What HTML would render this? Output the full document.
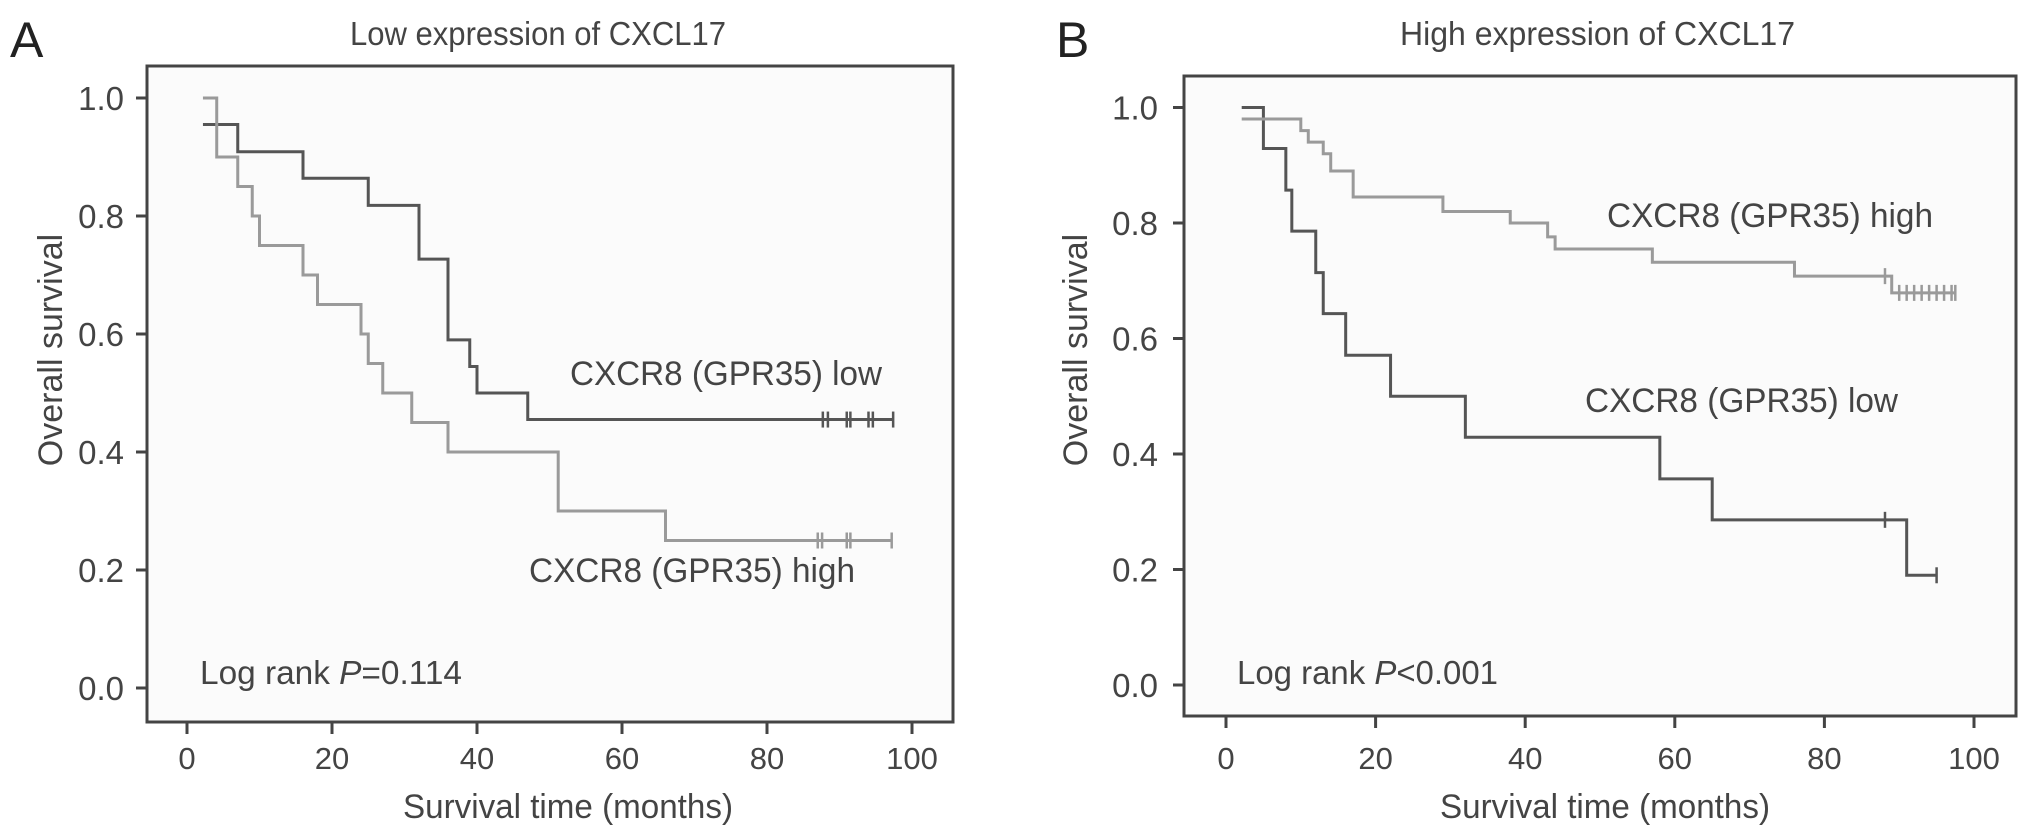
<!DOCTYPE html>
<html><head><meta charset="utf-8"><style>
html,body{margin:0;padding:0;background:#fff;}
svg{display:block;font-family:"Liberation Sans",sans-serif;}
</style></head><body>
<svg id="chart" width="2032" height="840" viewBox="0 0 2032 840"></svg>
<script>
// Panel A data (Low expression of CXCL17)
const aLowTimes = [2.2, 7, 16, 25, 32, 36, 39, 40, 47, 97.4];
const aLowSurv = [0.955, 0.909, 0.864, 0.818, 0.727, 0.59, 0.545, 0.5, 0.455, 0.455];
const aLowCensor = [87.7, 88.4, 91, 91.5, 94, 94.6, 97.4];
const aHighTimes = [2.2, 4.1, 7, 9, 10, 16, 18, 24, 25, 27, 31, 36, 51.2, 66, 97.2];
const aHighSurv = [1.0, 0.9, 0.85, 0.8, 0.75, 0.7, 0.65, 0.6, 0.55, 0.5, 0.45, 0.4, 0.3, 0.25, 0.25];
const aHighCensor = [87, 87.6, 91, 91.5, 97.2];
// Panel B data (High expression of CXCL17)
const bLowTimes = [2.1, 5, 8, 8.8, 12, 13, 16, 22, 32, 58, 65, 91, 95];
const bLowSurv = [1.0, 0.929, 0.857, 0.786, 0.714, 0.643, 0.571, 0.5, 0.429, 0.357, 0.286, 0.19, 0.19];
const bLowCensor = [88.1, 95];
const bHighTimes = [2.1, 10, 11, 13, 14, 17, 29, 38, 43, 44, 57, 76, 89, 97.5];
const bHighSurv = [0.98, 0.96, 0.94, 0.92, 0.89, 0.845, 0.82, 0.8, 0.776, 0.755, 0.732, 0.708, 0.679, 0.679];
const bHighCensor = [88.1, 90, 91, 92, 93, 94, 95, 96, 97, 97.5];
const xTicks = [0, 20, 40, 60, 80, 100];
const yTicks = [0, 0.2, 0.4, 0.6, 0.8, 1.0];

const NS = "http://www.w3.org/2000/svg";
const svg = document.getElementById("chart");
function mk(tag, attrs, parent){ const e=document.createElementNS(NS,tag); for(const k in attrs) e.setAttribute(k,attrs[k]); (parent||svg).appendChild(e); return e; }
function txt(s, attrs, parent){ const e=mk("text",attrs,parent); e.textContent=s; return e; }

function panel(cfg){
  const g = mk("g",{});
  
  
  const X = v => cfg.x0 + (cfg.x100 - cfg.x0) * v / 100;
  const Y = v => cfg.y0 - (cfg.y0 - cfg.y1) * v;
  const box = mk("rect",{x:cfg.bl,y:cfg.bt,width:cfg.br-cfg.bl,height:cfg.bb-cfg.bt,fill:"#fbfbfb",stroke:"#444","stroke-width":3},g);
  
  
  yTicks.forEach(v=>{
    const t = mk("line",{x1:cfg.bl-11,x2:cfg.bl,y1:Y(v),y2:Y(v),stroke:"#444","stroke-width":3},g);
    
    
    const l = txt(v.toFixed(1),{x:cfg.ylabX,y:Y(v)+12,"text-anchor":"end","font-size":33,fill:"#444"},g);
    
    
  });
  xTicks.forEach(v=>{
    const t = mk("line",{x1:X(v),x2:X(v),y1:cfg.bb,y2:cfg.bb+12,stroke:"#444","stroke-width":3},g);
    
    
    const l = txt(String(v),{x:X(v),y:769,"text-anchor":"middle","font-size":31,fill:"#444"},g);
    
    
  });
  function curve(times, surv, cens, color, name){
    let d = "M"+X(times[0])+","+Y(surv[0]);
    for(let i=1;i<times.length;i++){
      d += " H"+X(times[i]);
      d += " V"+Y(surv[i]);
    }
    const p = mk("path",{d:d,fill:"none",stroke:color,"stroke-width":3},g);
    
    
    cens.forEach(c=>{
      let s = surv[0];
      for(let i=0;i<times.length;i++){ if(times[i]<=c) s=surv[i]; }
      const m = mk("line",{x1:X(c),x2:X(c),y1:Y(s)-8,y2:Y(s)+8,stroke:color,"stroke-width":2.5},g);
      
      
    });
  }
  curve(cfg.lowT,cfg.lowS,cfg.lowC,"#555","low-series");
  curve(cfg.highT,cfg.highS,cfg.highC,"#9a9a9a","high-series");
  cfg.labels.forEach(L=>{
    const e = txt(L.t,{x:L.x,y:L.y,"font-size":34,fill:"#444",textLength:L.w,lengthAdjust:"spacingAndGlyphs"},g);
    
    
  });
  const lr = txt("",{x:cfg.lrX,y:684,"font-size":33,fill:"#444",textLength:cfg.lrW,lengthAdjust:"spacingAndGlyphs"},g);
  
  
  const s1=mk("tspan",{},lr); s1.textContent="Log rank ";
  const s2=mk("tspan",{"font-style":"italic"},lr); s2.textContent="P";
  const s3=mk("tspan",{},lr); s3.textContent=cfg.p;
  const xt = txt("Survival time (months)",{x:cfg.xtX,y:818,"font-size":34,fill:"#444",textLength:330,lengthAdjust:"spacingAndGlyphs"},g);
  
  
  const yt = txt("Overall survival",{x:0,y:0,"font-size":34,fill:"#444","text-anchor":"middle",transform:"translate("+(cfg.ytX)+",350) rotate(-90)"},g);
  
  
  const ti = txt(cfg.title,{x:cfg.titleX,y:45,"font-size":33,fill:"#444",textLength:cfg.titleW,lengthAdjust:"spacingAndGlyphs"},g);
  
  
  const pl = txt(cfg.letter,{x:cfg.letterX,y:57,"font-size":50,fill:"#222"},g);
  
  
}

panel({name:"panel-a",x0:187,x100:912,y0:688,y1:98,bl:147,br:953,bt:66,bb:722,ylabX:124,
  lowT:aLowTimes,lowS:aLowSurv,lowC:aLowCensor,highT:aHighTimes,highS:aHighSurv,highC:aHighCensor,
  labels:[{t:"CXCR8 (GPR35) low",x:570,y:385,w:312,n:"low-series-label"},{t:"CXCR8 (GPR35) high",x:529,y:582,w:326,n:"high-series-label"}],
  lrX:200,lrW:262,p:"=0.114",xtX:403,ytX:62,title:"Low expression of CXCL17",titleX:350,titleW:376,letter:"A",letterX:10});
panel({name:"panel-b",x0:1226,x100:1974,y0:685,y1:107.5,bl:1184,br:2016,bt:76,bb:716,ylabX:1158,
  lowT:bLowTimes,lowS:bLowSurv,lowC:bLowCensor,highT:bHighTimes,highS:bHighSurv,highC:bHighCensor,
  labels:[{t:"CXCR8 (GPR35) high",x:1607,y:227,w:326,n:"high-series-label"},{t:"CXCR8 (GPR35) low",x:1585,y:412,w:313,n:"low-series-label"}],
  lrX:1237,lrW:261,p:"<0.001",xtX:1440,ytX:1087,title:"High expression of CXCL17",titleX:1400,titleW:395,letter:"B",letterX:1056});
</script>
</body></html>
